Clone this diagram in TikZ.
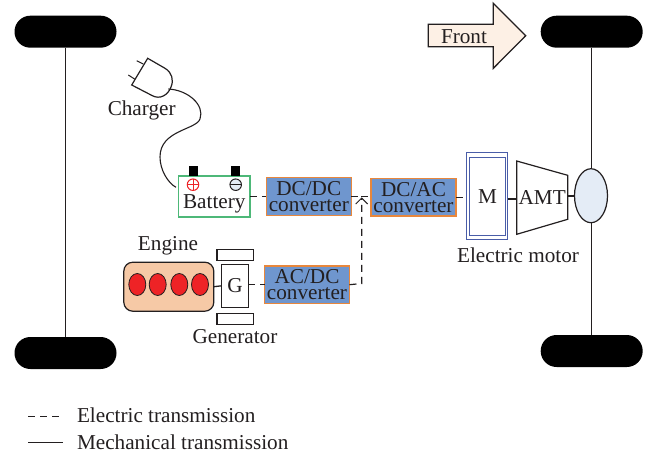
\documentclass[tikz,border=0pt]{standalone}
\usepackage{fontspec}
\setmainfont{Liberation Serif}
\usetikzlibrary{shapes.geometric,arrows.meta}
\definecolor{conv}{HTML}{6F96CE}
\definecolor{convb}{HTML}{E8873C}
\definecolor{engf}{HTML}{F6C9A6}
\definecolor{cyl}{HTML}{EE2326}
\definecolor{batg}{HTML}{4DB878}
\definecolor{motb}{HTML}{4A5DA8}
\definecolor{frontf}{HTML}{FDF0E5}
\definecolor{ellf}{HTML}{E4ECF6}
\definecolor{ink}{HTML}{231F20}
\tikzset{
 every node/.style={inner sep=0pt,outer sep=0pt,text=ink},
 lbl/.style={font=\fontsize{21.2}{16}\selectfont},
 wheel/.style={fill=black,rounded corners=15.9pt,minimum width=102pt,minimum height=32pt},
 conv box/.style={draw=convb,line width=1.3pt,fill=conv,minimum width=85pt,minimum height=37.5pt,align=center,font=\fontsize{21.2}{16}\selectfont},
 plain box/.style={draw=ink,line width=1.2pt,fill=white},
 mech/.style={draw=ink,line width=1.3pt},
 elec/.style={draw=ink,line width=1.2pt,dash pattern=on 7pt off 5pt},
 cyl node/.style={ellipse,draw=ink,line width=0.8pt,fill=cyl,minimum width=17pt,minimum height=22pt},
 term/.style={fill=black,minimum width=9pt,minimum height=10pt},
}
\begin{document}
\begin{tikzpicture}[x=1pt,y=-1pt]
\useasboundingbox (0,0) rectangle (655,458);
% wheels
\node[wheel] (wlt) at (65.5,31.7) {};
\node[wheel] (wlb) at (65.5,353) {};
\node[wheel] (wrt) at (591.7,31.7) {};
\node[wheel] (wrb) at (591.7,351) {};
% ellipse on the right axle
\node[ellipse,draw=ink,line width=1.2pt,fill=ellf,minimum width=33pt,minimum height=54pt] (diff) at (591,195.7) {};
\draw[mech] (wlt) -- (wlb);
\draw[mech] (wrt) -- (wrt |- diff.north);
\draw[mech] (wrb |- diff.south) -- (wrb);
% front arrow
\draw[draw=ink,line width=1.3pt,fill=frontf] (428.3,24.3) -- (493.3,24.3) -- (493.3,3.3) -- (525.7,35.7) -- (493.3,68.3) -- (493.3,46.7) -- (428.3,46.7) -- cycle;
\node[lbl] (front) at (464,36.5) {Front};
% plug
\draw[draw=ink,line width=1.2pt,fill=white] (147.7,58.3) -- (165,68.3) .. controls (172,72.5) and (174,80) .. (171,87) .. controls (168,95) and (160,100) .. (152,95.5) -- (131.7,85) -- cycle;
\coordinate (plug) at (168.3,89);
\draw[mech,line width=1pt] (136.7,60.7) -- (143.3,64);
\draw[mech,line width=1pt] (128.3,75) -- (135,79.3);
\node[lbl] (charger) at (141.7,110) {Charger};
% battery
\node[draw=batg,line width=1.3pt,fill=white,minimum width=71.3pt,minimum height=41pt] (bat) at (214.3,196.5) {};
\node[lbl] (battxt) at (214.3,204) {Battery};
\node[term] (t1) at (193.8,171) {};
\node[term] (t2) at (235.5,171) {};
\node[circle,draw=cyl,line width=1pt,minimum size=11.5pt] (plus) at (193,184.7) {};
\draw[cyl,line width=1pt] (plus.north) -- (plus.south) (plus.west) -- (plus.east);
\node[circle,draw=ink,line width=1pt,fill=ellf,minimum size=11.5pt] (minus) at (235.7,184.7) {};
\draw[ink,line width=1pt] (minus.west) -- (minus.east);
\coordinate (batin) at (176,187.3);
\draw[mech,line width=1.1pt] (plug) .. controls (188,90) and (205,105) .. (200,119) .. controls (196,130) and (160,130) .. (160,157) .. controls (160,170) and (168,183) .. (batin);
% converters
\node[conv box] (dcdc) at (308.8,196.5) {DC/DC\\converter};
\node[conv box] (dcac) at (413.5,197.3) {DC/AC\\converter};
\node[conv box] (acdc) at (307,284.7) {AC/DC\\converter};
% engine
\node[draw=ink,line width=1.2pt,fill=engf,rounded corners=9pt,minimum width=90pt,minimum height=49pt] (eng) at (168.8,286.7) {};
\node[cyl node] (c1) at (137.3,284.5) {};
\node[cyl node] (c2) at (157.7,284.5) {};
\node[cyl node] (c3) at (179.3,284.5) {};
\node[cyl node] (c4) at (200,284.5) {};
\node[lbl] (englbl) at (168,245.7) {Engine};
% generator
\node[plain box,minimum width=26.6pt,minimum height=43pt,font=\fontsize{21.2}{16}\selectfont] (gen) at (235,285.8) {G};
\node[plain box,minimum width=36.3pt,minimum height=10.6pt] (gt) at (235.2,255) {};
\node[plain box,minimum width=36.3pt,minimum height=10.6pt] (gb) at (235.2,319) {};
\node[lbl] (genlbl) at (235,336.7) {Generator};
\draw[mech] (eng.east) -- (gen.west);
% motor
\node[draw=motb,line width=1pt,fill=white,minimum width=41pt,minimum height=87pt] (mo) at (487.2,195.8) {};
\node[draw=motb,line width=1pt,minimum width=35.6pt,minimum height=78pt,font=\fontsize{21.2}{16}\selectfont] (mi) at (487.5,196.3) {M};
\node[lbl] (motlbl) at (518,255.7) {Electric motor};
% AMT
\coordinate (al) at (516.7,199);
\coordinate (ar) at (567.7,196);
\draw[draw=ink,line width=1.2pt,fill=white] (516.7,161) -- (567.7,175.3) -- (567.7,219.3) -- (516.7,234.3) -- cycle;
\node[lbl] (amt) at (542.2,197.5) {AMT};
\draw[mech] (mo.east |- al) -- (al);
\draw[mech] (ar) -- (diff.west |- ar);
% electric connectors
\draw[elec] (bat.east |- dcdc) -- (dcdc.west);
\draw[elec,dash pattern=on 7pt off 3pt] (dcdc.east) -- (dcac.west |- dcdc);
\draw[elec] (dcac.east) -- (mo.west |- dcac);
\draw[elec] (gen.east |- acdc) -- (acdc.west);
\coordinate (jn) at (361.7,198);
\draw[elec] (acdc.east) -- (361.7,283.5) -- (jn);
\draw[ink,line width=1pt] (355.7,204) -- (jn) -- (367.7,204);
% legend
\coordinate (l1a) at (28.3,416.7);
\coordinate (l1b) at (63.3,416.7);
\coordinate (l2a) at (28.3,442.7);
\coordinate (l2b) at (63.3,442.7);
\draw[elec] (l1a) -- (l1b);
\draw[mech,line width=1pt] (l2a) -- (l2b);
\node[lbl,anchor=west] (le) at (77,415) {Electric transmission};
\node[lbl,anchor=west] (lm) at (77,442) {Mechanical transmission};
\end{tikzpicture}
\end{document}
